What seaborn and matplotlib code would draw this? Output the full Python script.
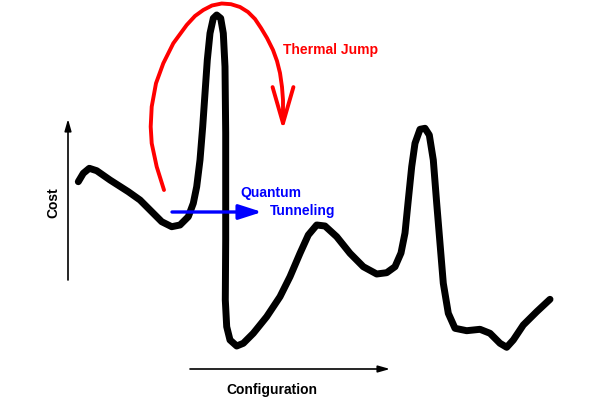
import numpy as np
import pandas as pd
import matplotlib.pyplot as plt
import seaborn as sns

# cost landscape (pixel coordinates, y grows downward)
landscape_x = [78.3, 83.3, 89.3, 96.7, 110, 128.3, 140, 151.7, 161.7, 171.7, 180,
               188.3, 193.3, 196.7, 200, 202.7, 205, 207.3, 210, 213.3, 216.7,
               220.7, 223.3, 225, 225.7, 225.7, 225.5, 225.3, 226.7, 230, 236.7,
               243.3, 253.3, 266.7, 280, 290, 300, 308.3, 316.7, 325, 336.7, 350,
               363.3, 376.7, 386.7, 395, 401, 405, 408.3, 411.7, 415, 420, 425,
               429.3, 433.3, 436.7, 440, 443.3, 448.3, 455, 466.7, 480, 490, 500,
               506.7, 513.3, 523.3, 536.7, 550]
landscape_y = [181.7, 173.3, 168.3, 170.7, 180, 191.7, 200, 211.7, 221.7, 226.7, 225,
               216.7, 203.3, 186.7, 160, 126.7, 93.3, 60, 33.3, 18.3, 15,
               18.3, 33.3, 66.7, 133, 240, 270, 300, 326.7, 340, 346,
               343.3, 333.3, 316.7, 296.7, 276.7, 253.3, 235, 225, 226, 236.7, 253.3,
               266.7, 274, 272.7, 266.7, 253, 233, 200, 166.7, 143.3, 129.3, 128.3,
               135, 160, 203.3, 243.3, 283.3, 313.3, 328.3, 330.7, 329.3, 333.3, 343.3,
               347.3, 340, 325, 311.7, 299.3]

# thermal jump arc
thermal_x = [164, 156.7, 151.7, 150.7, 151.7, 156, 163.3, 173.3, 186.7, 195, 203.3,
             212, 221.7, 231, 240, 248, 255, 261, 267, 273, 277, 280, 282, 283, 283]
thermal_y = [190, 166.7, 143.3, 126.7, 106.7, 83.3, 63.3, 43.3, 25, 16, 10,
             5.5, 3.5, 4.2, 7, 12, 19, 28, 38, 50, 61, 73, 87, 100, 110]

# quantum tunneling arrow
tunnel_x = [172, 262]
tunnel_y = [212, 212]

curve = pd.DataFrame({"x": landscape_x, "y": landscape_y})
arc = pd.DataFrame({"x": thermal_x, "y": thermal_y})

sns.set_style("white")
plt.rcParams["font.family"] = ["Liberation Sans", "DejaVu Sans"]

fig = plt.figure(figsize=(6, 4), dpi=100)
ax = fig.add_axes([0, 0, 1, 1])

sns.lineplot(data=curve, x="x", y="y", sort=False, estimator=None, ax=ax,
             color="black", linewidth=5, solid_joinstyle="round")
sns.lineplot(data=arc, x="x", y="y", sort=False, estimator=None, ax=ax,
             color="#ff0000", linewidth=2.8, solid_joinstyle="round")

# red open arrowhead
ax.annotate("", xy=(283, 133), xytext=(283, 108),
            arrowprops=dict(arrowstyle="->,head_length=2.6,head_width=0.75",
                            color="#ff0000", lw=2.8))

# blue tunneling arrow
ax.annotate("", xy=(tunnel_x[1], tunnel_y[1]), xytext=(tunnel_x[0], tunnel_y[0]),
            arrowprops=dict(arrowstyle="-|>,head_length=1.4,head_width=0.45",
                            color="#0000ff", lw=2.4, shrinkA=0, shrinkB=0))

# axes arrows
ax.annotate("", xy=(68, 119), xytext=(68, 280),
            arrowprops=dict(arrowstyle="-|>,head_length=0.7,head_width=0.2",
                            color="black", lw=1.2, shrinkA=0, shrinkB=0))
ax.annotate("", xy=(390, 369), xytext=(190, 369),
            arrowprops=dict(arrowstyle="-|>,head_length=0.7,head_width=0.2",
                            color="black", lw=1.2, shrinkA=0, shrinkB=0))

ax.text(283, 50, "Thermal Jump", color="#ff0000", fontsize=10, fontweight="bold",
        ha="left", va="center")
ax.text(240, 193, "Quantum", color="#0000ff", fontsize=10, fontweight="bold",
        ha="left", va="center")
ax.text(270, 211, "Tunneling", color="#0000ff", fontsize=10, fontweight="bold",
        ha="left", va="center")
ax.text(53, 203, "Cost", color="black", fontsize=10, fontweight="bold",
        rotation=90, ha="center", va="center")
ax.text(272, 390, "Configuration", color="black", fontsize=10, fontweight="bold",
        ha="center", va="center")

ax.set_xlim(0, 600)
ax.set_ylim(400, 0)
ax.axis("off")

fig.savefig("out.png", dpi=100)
